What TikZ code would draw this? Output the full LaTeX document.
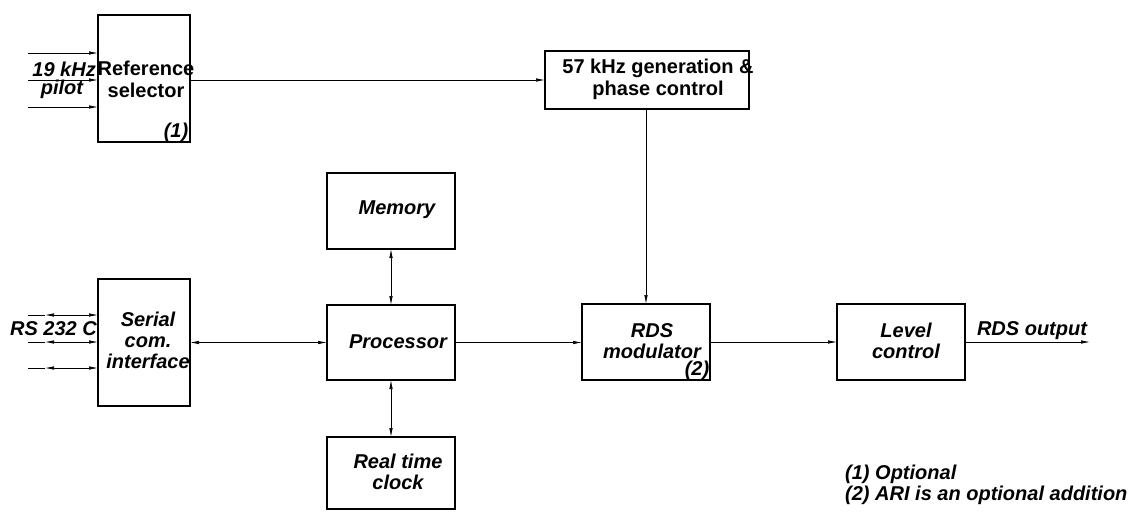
\documentclass[tikz,border=0pt]{standalone}
\usepackage{fontspec}
\setmainfont{Liberation Sans}
\usetikzlibrary{arrows.meta}
\tikzset{
  box/.style={draw, line width=1.4pt, inner sep=0pt, outer sep=0pt},
  txt/.style={font=\fontsize{20}{21}\selectfont\bfseries\itshape, inner sep=0pt, align=center},
  txtup/.style={font=\fontsize{20}{22}\selectfont\bfseries, inner sep=0pt, align=center},
  conn/.style={line width=0.7pt},
  arr/.style={conn, -{Latex[length=9pt,width=3.5pt]}},
  darr/.style={conn, {Latex[length=9pt,width=3.5pt]}-{Latex[length=9pt,width=3.5pt]}},
  larr/.style={conn, {Latex[length=9pt,width=3.5pt]}-}
}
\begin{document}
\begin{tikzpicture}[x=1pt,y=-1pt]
\useasboundingbox (0,0) rectangle (1131,514);
% boxes
\node[box, minimum width=92pt, minimum height=127pt] (ref) at (144,78.5) {};
\node[box, minimum width=92pt, minimum height=127pt] (ser) at (144,342.5) {};
\node[box, minimum width=204pt, minimum height=58pt] (gen) at (647,80) {};
\node[box, minimum width=128pt, minimum height=76pt] (mem) at (391,211) {};
\node[box, minimum width=128pt, minimum height=75pt] (proc) at (391,342.5) {};
\node[box, minimum width=128pt, minimum height=72pt] (rtc) at (391,473) {};
\node[box, minimum width=128pt, minimum height=76pt] (rds) at (646,342) {};
\node[box, minimum width=128pt, minimum height=76pt] (lvl) at (901,342) {};
% texts
\node[txtup] (refT) at (146,79) {Reference\\selector};
\node[txt] (refN) at (176,132) {(1)};
\node[txt, anchor=east] (khz) at (96,69) {19 kHz};
\node[txt] (pilot) at (62,89) {pilot};
\node[txt] (serT) at (148,340) {Serial\\com.\\interface};
\node[txt, anchor=east] (rs) at (97,329) {RS 232 C};
\node[txtup] (genT) at (658,79) {57 kHz generation \&\\phase control};
\node[txt] (memT) at (397,210) {Memory};
\node[txt] (procT) at (398,342) {Processor};
\node[txt] (rtcT) at (398,472) {Real time\\clock};
\node[txt] (rdsT) at (652,341) {RDS\\modulator};
\node[txt] (rdsN) at (697,370) {(2)};
\node[txt] (lvlT) at (906,341) {Level\\control};
\node[txt] (outT) at (1032,331) {RDS output};
\node[txt, anchor=west, align=left] (leg) at (845,485) {(1) Optional\\(2) ARI is an optional addition};
% reference selector inputs
\coordinate (r1) at (28,53);
\coordinate (r2) at (28,80);
\coordinate (r3) at (28,107);
\draw[arr] (r1) -- (r1 -| ref.west);
\draw[arr] (r2) -- (r2 -| ref.west);
\draw[arr] (r3) -- (r3 -| ref.west);
% serial inputs
\coordinate (s1) at (28,315);
\coordinate (s2) at (28,342);
\coordinate (s3) at (28,368);
\coordinate (t1) at (45,315);
\coordinate (t2) at (45,342);
\coordinate (t3) at (45,368);
\draw[conn] (s1) -- (t1);
\draw[conn] (s2) -- (t2);
\draw[conn] (s3) -- (t3);
\draw[darr] (t1) -- (t1 -| ser.west);
\draw[darr] (t2) -- (t2 -| ser.west);
\draw[darr] (t3) -- (t3 -| ser.west);
% main connections
\draw[arr] (ref.east |- r2) -- (gen.west |- r2);
\draw[arr] (gen.south -| rds.north) -- (rds.north);
\draw[darr] (ser.east |- proc.west) -- (proc.west);
\draw[darr] (mem.south) -- (proc.north);
\draw[darr] (proc.south) -- (rtc.north);
\draw[arr] (proc.east) -- (proc.east -| rds.west);
\draw[arr] (rds.east) -- (rds.east -| lvl.west);
\coordinate (out) at (1090,342);
\draw[arr] (lvl.east) -- (out);
\end{tikzpicture}
\end{document}
